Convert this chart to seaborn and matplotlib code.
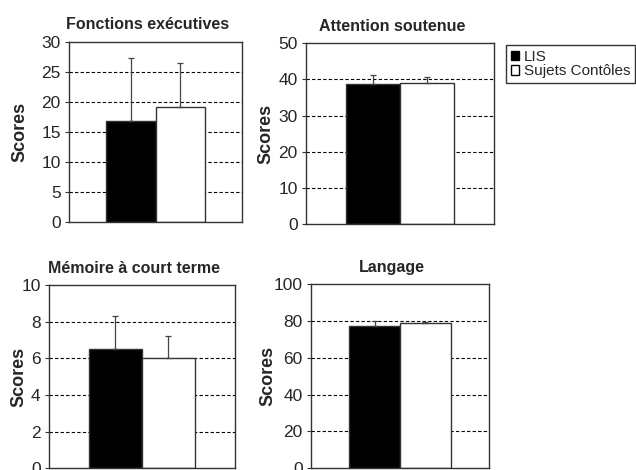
import pandas as pd
import matplotlib.pyplot as plt
import seaborn as sns
from matplotlib.patches import Patch

# values
titles = ['Fonctions exécutives', 'Attention soutenue', 'Mémoire à court terme', 'Langage']
groups = ['LIS', 'Sujets Contôles']
lis_means = [16.8, 38.8, 6.5, 77.5]
lis_err = [10.5, 2.5, 1.8, 2.4]
ctrl_means = [19.2, 39.0, 6.0, 79.0]
ctrl_err = [7.3, 1.8, 1.2, 0.7]
y_max = [30, 50, 10, 100]
y_step = [5, 10, 2, 20]

sns.set_theme(style='white')
plt.rcParams['font.family'] = ['Liberation Sans', 'DejaVu Sans']

fig = plt.figure(figsize=(6.36, 4.70), dpi=100)
boxes = [
    [0.1085, 0.528, 0.272, 0.383],
    [0.481, 0.523, 0.296, 0.385],
    [0.077, 0.004, 0.292, 0.389],
    [0.489, 0.004, 0.280, 0.391],
]
label_x = [-0.235, -0.165, -0.115, -0.195]
colors = {'LIS': 'black', 'Sujets Contôles': 'white'}

for i, title in enumerate(titles):
    ax = fig.add_axes(boxes[i])
    df = pd.DataFrame({
        'cat': ['a', 'a'],
        'sujet': groups,
        'score': [lis_means[i], ctrl_means[i]],
    })
    sns.barplot(data=df, x='cat', y='score', hue='sujet', palette=colors,
                width=0.57, edgecolor='#333333', linewidth=1.0, ax=ax,
                legend=False, zorder=2)
    errs = [lis_err[i], ctrl_err[i]]
    for bar, e in zip(ax.patches, errs):
        xc = bar.get_x() + bar.get_width() / 2
        ax.errorbar([xc], [bar.get_height()], yerr=[[0], [e]], fmt='none',
                    ecolor='#444444', elinewidth=0.9, capsize=2.5,
                    capthick=0.9, zorder=3)
    ax.set_xlim(-0.5, 0.5)
    ax.set_ylim(0, y_max[i])
    ticks = list(range(0, y_max[i] + 1, y_step[i]))
    ax.set_yticks(ticks)
    ax.set_xticks([])
    ax.set_xlabel('')
    ax.set_ylabel('Scores', fontsize=13, fontweight='bold')
    ax.yaxis.set_label_coords(label_x[i], 0.5)
    w_px = boxes[i][2] * 636
    ax.set_title(title, fontsize=11.5, fontweight='bold', pad=9,
                 x=0.5 - 8 / w_px)
    for t in ticks[1:-1]:
        ax.axhline(t, color='black', linestyle=(0, (3, 2)), linewidth=0.8,
                   zorder=1)
    for s in ax.spines.values():
        s.set_visible(True)
        s.set_color('#333333')
        s.set_linewidth(1.0)
    ax.tick_params(axis='y', which='major', labelsize=12.5, length=3,
                   width=0.8, color='#333333', pad=3, left=True)

handles = [Patch(facecolor=colors[g], edgecolor='black', label=g) for g in groups]
fig.legend(handles=handles, loc='upper left', bbox_to_anchor=(506 / 636, 1 - 45 / 470),
           frameon=True, fancybox=False, edgecolor='black', fontsize=11,
           handlelength=0.55, handleheight=0.55, handletextpad=0.3,
           borderpad=0.3, labelspacing=0.05, borderaxespad=0)

fig.savefig('out.png', dpi=100)
